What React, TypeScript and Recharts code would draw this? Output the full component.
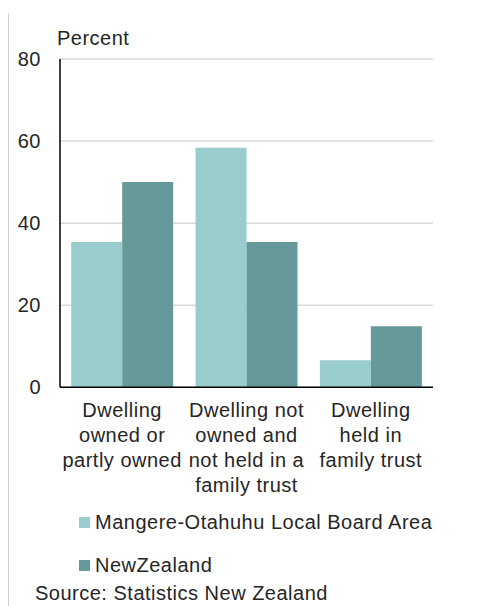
import React from 'react';
import { BarChart, Bar, XAxis, YAxis, CartesianGrid, Legend } from 'recharts';

const categories = [
  'Dwelling owned or partly owned',
  'Dwelling not owned and not held in a family trust',
  'Dwelling held in family trust',
];
const tickLines = [
  ['Dwelling', 'owned or', 'partly owned'],
  ['Dwelling not', 'owned and', 'not held in a', 'family trust'],
  ['Dwelling', 'held in', 'family trust'],
];
const mangere = [35.4, 58.4, 6.6];
const newZealand = [50.0, 35.4, 14.9];
const yTicks = [0, 20, 40, 60, 80];
const seriesNames = ['Mangere-Otahuhu Local Board Area', 'NewZealand'];
const colors = ['#99CCCC', '#669999'];

const data = categories.map((c, i) => ({
  name: c,
  idx: i,
  mangere: mangere[i],
  nz: newZealand[i],
}));

const FONT = '"Liberation Sans", Arial, sans-serif';
const TEXT = '#262626';
const FS = 20;
const LS = '0.5px';

const CatTick = (props: any) => {
  const { x, y, payload } = props;
  const lines = tickLines[payload.index] || [String(payload.value)];
  return (
    <text x={x} y={y} textAnchor="middle" fill={TEXT} fontSize={FS} fontFamily={FONT} letterSpacing={LS}>
      {lines.map((l, i) => (
        <tspan key={i} x={x} y={y + 15 + i * 25} dy="0.355em">
          {l}
        </tspan>
      ))}
    </text>
  );
};

const LegendContent = () => (
  <div style={{ fontFamily: FONT, fontSize: FS, color: TEXT, letterSpacing: LS }}>
    {seriesNames.map((n, i) => (
      <div
        key={n}
        style={{ display: 'flex', alignItems: 'center', height: 22, marginBottom: i === 0 ? 21 : 0, whiteSpace: 'nowrap' }}
      >
        <span style={{ width: 11, height: 11, background: colors[i], display: 'inline-block', marginRight: 5 }} />
        <span>{n}</span>
      </div>
    ))}
  </div>
);

export default function App() {
  return (
    <div style={{ position: 'absolute', left: 0, top: 0, width: 501, height: 606, background: '#fff' }}>
      <div style={{ position: 'absolute', left: 8, top: 14, width: 1, height: 592, background: '#cfcfcf' }} />
      <BarChart
        width={501}
        height={606}
        data={data}
        margin={{ top: 59, right: 68, left: 10, bottom: 118.7 }}
        barCategoryGap="9%"
        barGap={0}
      >
        <CartesianGrid vertical={false} stroke="#d9d9d9" strokeWidth={1.5} />
        <XAxis
          dataKey="name"
          height={100}
          interval={0}
          tick={<CatTick />}
          tickLine={false}
          axisLine={{ stroke: '#000', strokeWidth: 1.5 }}
        />
        <YAxis
          width={50}
          domain={[0, 80]}
          ticks={yTicks}
          interval={0}
          tickLine={false}
          tickSize={0}
          tickMargin={19}
          axisLine={{ stroke: '#000', strokeWidth: 1.5 }}
          tick={{ fill: TEXT, fontSize: FS, fontFamily: FONT, letterSpacing: LS }}
          label={(p: any) => (
            <text
              x={p.viewBox.x + p.viewBox.width - 3}
              y={p.viewBox.y - 21}
              dy="0.355em"
              fill={TEXT}
              fontSize={FS}
              fontFamily={FONT}
              letterSpacing={LS}
            >
              Percent
            </text>
          )}
        />
        <Bar dataKey="mangere" name={seriesNames[0]} fill={colors[0]} isAnimationActive={false} />
        <Bar dataKey="nz" name={seriesNames[1]} fill={colors[1]} isAnimationActive={false} />
        <Legend
          content={<LegendContent />}
          layout="horizontal"
          verticalAlign="middle"
          align="center"
          wrapperStyle={{ position: 'absolute', left: 79, top: 511, width: 420, height: 70 }}
        />
      </BarChart>
      <div
        style={{
          position: 'absolute',
          left: 35,
          top: 582,
          fontFamily: FONT,
          fontSize: FS,
          color: TEXT,
          letterSpacing: LS,
          lineHeight: '22px',
          whiteSpace: 'nowrap',
        }}
      >
        Source: Statistics New Zealand
      </div>
    </div>
  );
}
